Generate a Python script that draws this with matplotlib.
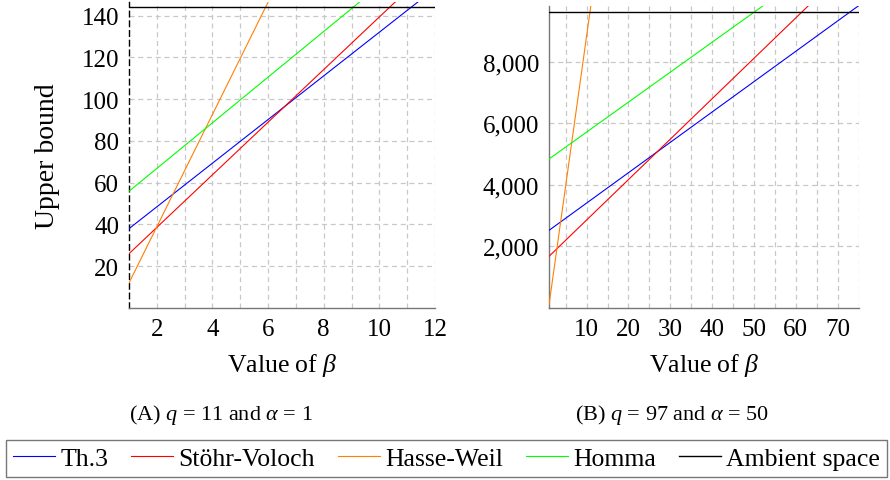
import matplotlib
matplotlib.use('Agg')
import matplotlib.pyplot as plt
from matplotlib.ticker import FuncFormatter, FixedLocator

plt.rcParams['font.family'] = ['Liberation Serif', 'DejaVu Serif']
plt.rcParams['mathtext.fontset'] = 'custom'
plt.rcParams['mathtext.rm'] = 'Liberation Serif'
plt.rcParams['mathtext.it'] = 'Liberation Serif:italic'

# (A) q = 11, alpha = 1
beta_a = [1, 12]
th3_a = [38.0, 153.0]
sv_a = [26.0, 164.6]
hw_a = [12.0, 307.9]
homma_a = [55.9, 176.2]
ambient_a = 144
yticks_a = [20, 40, 60, 80, 100, 120, 140]
xticks_a = [2, 4, 6, 8, 10, 12]

# (B) q = 97, alpha = 50
beta_b = [1, 75]
th3_b = [2522, 9818]
sv_b = [1678, 11394]
hw_b = [98, 72026]
homma_b = [4839, 12039]
ambient_b = 9604
yticks_b = [2000, 4000, 6000, 8000]
xticks_b = [10, 20, 30, 40, 50, 60, 70]

labels = ['Th.3', 'Stöhr-Voloch', 'Hasse-Weil', 'Homma', 'Ambient space']
colors = ['#0000ff', '#ff0000', '#ff8000', '#00ff00', '#000000']

W, H = 890, 481
fig = plt.figure(figsize=(W / 100, H / 100), dpi=100)


def px_axes(x0, x1, y0, y1):
    return fig.add_axes([x0 / W, 1 - y1 / H, (x1 - x0) / W, (y1 - y0) / H])


def draw_panel(ax, beta, series, ambient, xlim, ylim, xticks, yticks, xgrid):
    handles = []
    for vals, c in zip(series, colors[:4]):
        h, = ax.plot(beta, vals, color=c, lw=0.8, zorder=3)
        handles.append(h)
    h = ax.axhline(ambient, color='black', lw=1.0, zorder=3)
    handles.append(h)
    ax.set_xlim(*xlim)
    ax.set_ylim(*ylim)
    ax.xaxis.set_major_locator(FixedLocator(xticks))
    ax.yaxis.set_major_locator(FixedLocator(yticks))
    # dashed grid
    for g in xgrid:
        ax.axvline(g, color='#c8c8c8', lw=0.9, ls=(0, (4, 3)), zorder=1)
    for g in yticks:
        ax.axhline(g, color='#c8c8c8', lw=0.9, ls=(0, (4, 3)), zorder=1)
    for s in ['top', 'right']:
        ax.spines[s].set_visible(False)
    for s in ['left', 'bottom']:
        ax.spines[s].set_color('#777777')
        ax.spines[s].set_linewidth(1.0)
    ax.tick_params(length=0, labelsize=18, pad=7)
    ax.set_xlabel(r'Value of $\beta$', fontsize=18.5, labelpad=8)
    return handles


ax1 = px_axes(129, 435, 2.7, 309)
handles = draw_panel(ax1, beta_a, [th3_a, sv_a, hw_a, homma_a], ambient_a,
                     (1, 12), (0, 146.7), xticks_a, yticks_a, range(2, 13))
ax1.spines['left'].set_color('black')
ax1.spines['left'].set_linestyle((0, (4, 3)))
ax1.set_ylabel('Upper bound', fontsize=20, labelpad=16)

ax2 = px_axes(549, 858.6, 6.7, 309)
draw_panel(ax2, beta_b, [th3_b, sv_b, hw_b, homma_b], ambient_b,
           (1, 75), (0, 9819), xticks_b, yticks_b, range(5, 80, 5))
ax2.yaxis.set_major_formatter(FuncFormatter(lambda v, p: f'{v:,.0f}'))

fig.text(221 / W, 1 - 415 / H, r'(A) $q$ = 11 and $\alpha$ = 1', fontsize=16,
         ha='center', va='center')
fig.text(672 / W, 1 - 415 / H, r'(B) $q$ = 97 and $\alpha$ = 50', fontsize=16,
         ha='center', va='center')

leg = fig.legend(handles, labels, ncol=5, loc='center',
                 bbox_to_anchor=(446.5 / W, 1 - 459.5 / H), fontsize=18.5,
                 frameon=True, fancybox=False, edgecolor='#555555',
                 handlelength=1.65, handletextpad=0.2, columnspacing=0.88,
                 borderpad=0.27, borderaxespad=0)
leg.get_frame().set_linewidth(1.0)

fig.savefig('out.png', dpi=100)
